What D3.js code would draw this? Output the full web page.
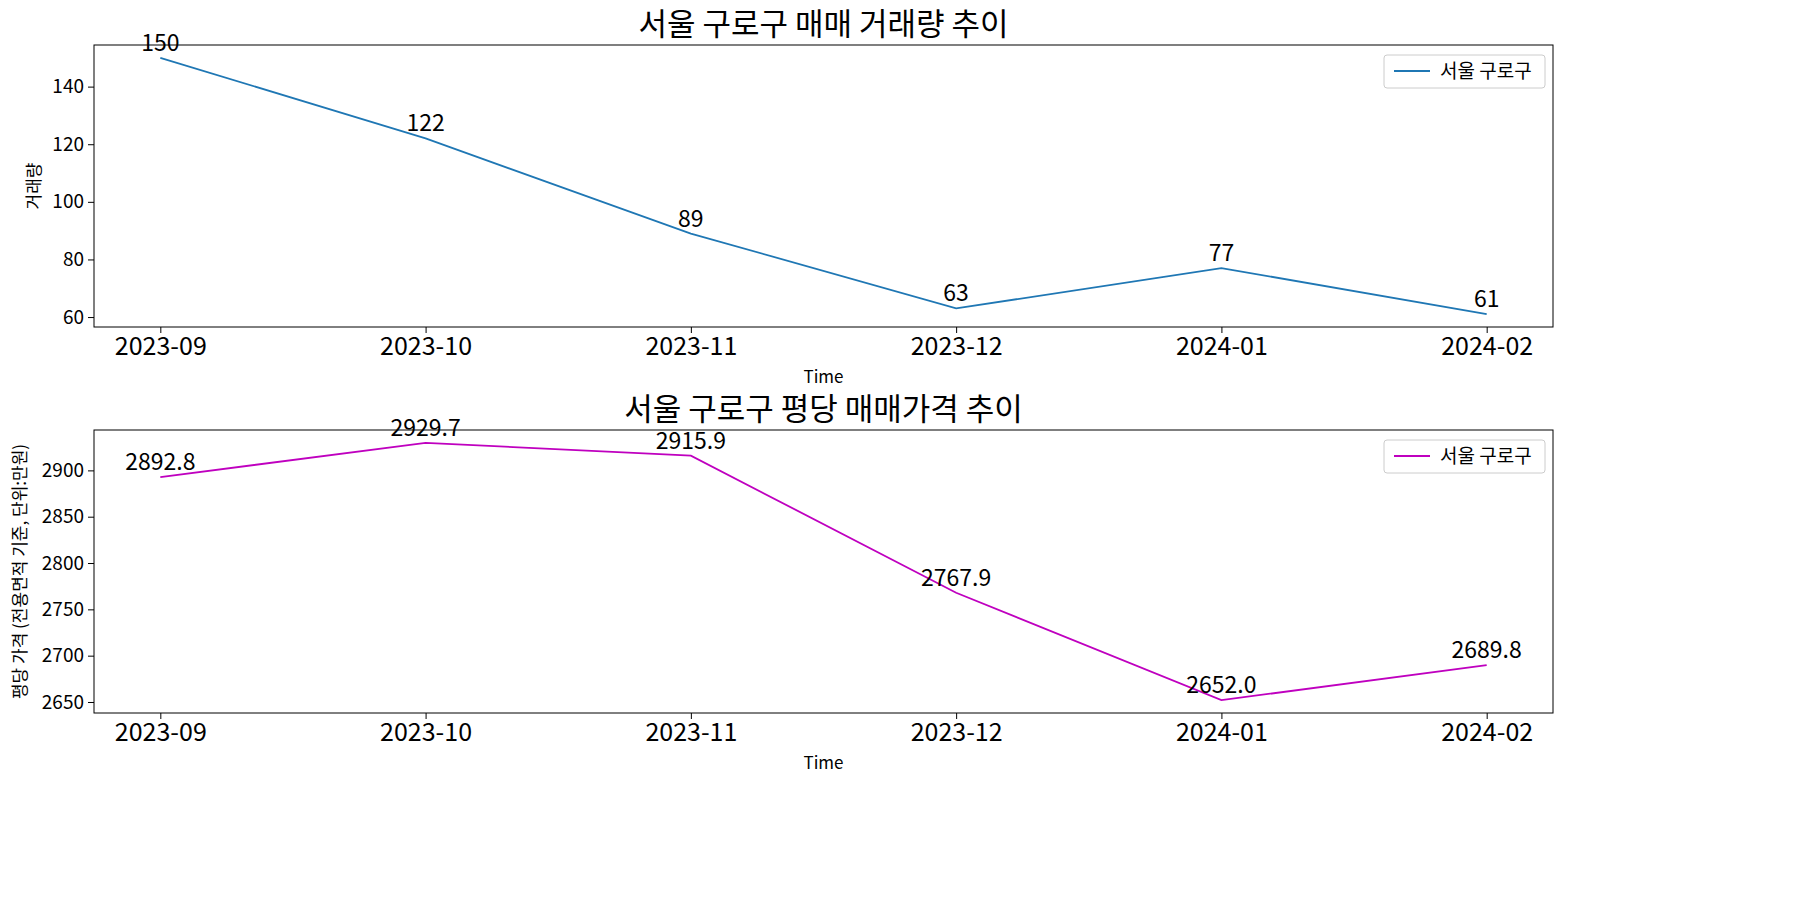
<!DOCTYPE html>
<html><head><meta charset="utf-8">
<script src="https://cdn.jsdelivr.net/npm/d3@7"></script>
<style>body{margin:0;background:#fff}text{font-family:"Noto Sans CJK KR","Noto Sans",sans-serif}</style>
</head><body><svg id="c" width="1800" height="900"></svg>
<script>
const months = ["2023-09","2023-10","2023-11","2023-12","2024-01","2024-02"];
const volume = [150,122,89,63,77,61];
const price = [2892.8,2929.7,2915.9,2767.9,2652.0,2689.8];
const volTicks = [60,80,100,120,140];
const priceTicks = [2650,2700,2750,2800,2850,2900];
const svg = d3.select("#c");
function panel(top, bottom, vals, ticks, color, title, ylabel, fmt, ylx){
  const L=94,R=1553;
  const x=d3.scalePoint().domain(months).range([L,R]).padding(0.25);
  const mn=d3.min(vals),mx=d3.max(vals),p=(mx-mn)*0.05;
  const y=d3.scaleLinear().domain([mn-p,mx+p]).range([bottom,top]);
  const g=svg.append("g");
  g.append("path").datum(vals).attr("fill","none").attr("stroke",color).attr("stroke-width",1.8)
    .attr("d",d3.line().x((d,i)=>x(months[i])).y(d=>y(d)));
  g.selectAll(".a").data(vals).join("text").attr("x",(d,i)=>x(months[i])).attr("y",d=>y(d)-7)
    .attr("text-anchor","middle").attr("font-size",23).text(fmt);
  const xa=g.append("g").attr("transform",`translate(0,${bottom})`).call(d3.axisBottom(x).tickSize(6).tickPadding(4));
  xa.selectAll("text").attr("font-size",25).attr("fill","#000");
  xa.select(".domain").remove();
  const ya=g.append("g").attr("transform",`translate(${L},0)`).call(d3.axisLeft(y).tickValues(ticks).tickFormat(d3.format("d")).tickSize(6).tickPadding(4));
  ya.selectAll("text").attr("font-size",19).attr("fill","#000");
  ya.select(".domain").remove();
  g.append("rect").attr("x",L).attr("y",top).attr("width",R-L).attr("height",bottom-top).attr("fill","none").attr("stroke","#000");
  g.append("text").attr("x",(L+R)/2).attr("y",top-10).attr("text-anchor","middle").attr("font-size",31).text(title);
  g.append("text").attr("x",(L+R)/2).attr("y",bottom+56).attr("text-anchor","middle").attr("font-size",17).text("Time");
  g.append("text").attr("transform",`translate(${ylx},${(top+bottom)/2}) rotate(-90)`).attr("text-anchor","middle").attr("font-size",17).text(ylabel);
  const lg=g.append("g").attr("transform",`translate(1384,${top+10})`);
  lg.append("rect").attr("width",161).attr("height",33).attr("rx",3).attr("fill","#fff").attr("stroke","#ccc");
  lg.append("line").attr("x1",10).attr("x2",46).attr("y1",16).attr("y2",16).attr("stroke",color).attr("stroke-width",1.8);
  lg.append("text").attr("x",56).attr("y",23).attr("font-size",19).text("서울 구로구");
}
panel(45,327,volume,volTicks,"#1f77b4","서울 구로구 매매 거래량 추이","거래량",d=>d,40);
panel(430,713,price,priceTicks,"#bf00bf","서울 구로구 평당 매매가격 추이","평당 가격 (전용면적 기준, 단위:만원)",d=>d.toFixed(1),26);
</script></body></html>
